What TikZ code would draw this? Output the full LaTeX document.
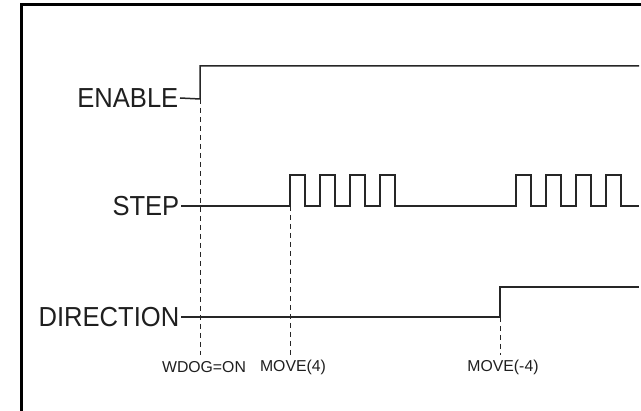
\documentclass[tikz,border=0pt]{standalone}
\usepackage{fontspec}
\setmainfont{Liberation Sans}
\newcommand{\condtext}[1]{\scalebox{0.93}[1]{#1}}
\begin{document}
\begin{tikzpicture}[x=1pt,y=-1pt,
  sig/.style={line width=1.5pt,color=black!85,line join=miter},
  guide/.style={line width=0.8pt,color=black!85,dash pattern=on 5pt off 4pt},
  biglabel/.style={font=\fontsize{27.5}{28}\selectfont,text=black!88,inner sep=1.5pt,anchor=east},
  smalllabel/.style={font=\fontsize{15.8}{16}\selectfont,text=black!88,inner sep=0pt,anchor=center},
  frameline/.style={line width=3pt,color=black}]
\useasboundingbox (0,0) rectangle (641,411);
\fill[white] (0,0) rectangle (641,411);
% frame
\draw[frameline] (641,5) -- (21.5,5) -- (21.5,411);
% labels
\node[biglabel] (en) at (180,98) {\condtext{ENABLE}};
\node[biglabel] (st) at (181,206) {\condtext{STEP}};
\node[biglabel] (di) at (181,317) {\condtext{DIRECTION}};
\node[smalllabel] (wd) at (204,367) {WDOG=ON};
\node[smalllabel] (m4) at (293,367) {MOVE(4)};
\node[smalllabel] (mm4) at (503,367) {MOVE(-4)};
% coordinates
\coordinate (enR) at (200,99);
\coordinate (enEnd) at (639,66);
\coordinate (stR) at (290,206);
\coordinate (stEnd) at (639,206);
\coordinate (diR) at (500,317);
\coordinate (diEnd) at (639,287);
% ENABLE
\draw[sig] (en.east) -- (enR) -- (200,66) -- (enEnd);
% STEP
\draw[sig] (st.east) -- (stR)
  -- (290,175) -- (305,175) -- (305,206) -- (320,206)
  -- (320,175) -- (335,175) -- (335,206) -- (350,206)
  -- (350,175) -- (365,175) -- (365,206) -- (380,206)
  -- (380,175) -- (395,175) -- (395,206) -- (516,206)
  -- (516,175) -- (531,175) -- (531,206) -- (546,206)
  -- (546,175) -- (561,175) -- (561,206) -- (576,206)
  -- (576,175) -- (591,175) -- (591,206) -- (606,206)
  -- (606,175) -- (621,175) -- (621,206) -- (stEnd);
% DIRECTION
\draw[sig] (di.east) -- (diR) -- (500,287) -- (diEnd);
% guides
\draw[guide] (enR) -- (200,355);
\draw[guide] (stR) -- (290,355);
\draw[guide] (diR) -- (500,355);
\end{tikzpicture}
\end{document}
